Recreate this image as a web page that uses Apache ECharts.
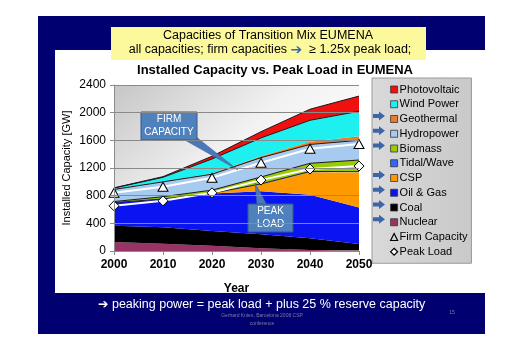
<!DOCTYPE html>
<html>
<head>
<meta charset="utf-8">
<script src="https://cdn.jsdelivr.net/npm/echarts@6/dist/echarts.min.js"></script>
<style>
  html, body { margin: 0; padding: 0; background: #fff; }
  #chart { width: 529px; height: 350px; }
</style>
</head>
<body>
<div id="chart"></div>
<script>
// Installed capacity by technology (GW), stacked bottom to top
const years = ['2000', '2010', '2020', '2030', '2040', '2050'];
const nuclear    = [130, 105,  75,  40,  15,   8];
const coal       = [235, 240, 215, 202, 168,  92];
const oilGas     = [335, 405, 540, 623, 632, 528];
const csp        = [  0,   2,   5, 100, 325, 507];
const tidalWave  = [  0,   0,   0,   5,  10,  12];
const biomass    = [ 15,  33,  45, 100, 118, 168];
const hydropower = [175, 215, 230, 280, 272, 285];
const geothermal = [  5,   6,  10,  20,  40,  60];
const windPower  = [ 15,  59, 210, 265, 310, 360];
const photovolt  = [  3,  10,  40,  90, 160, 220];
// Reference lines (GW)
const firmCapacity = [841, 928, 1059, 1276, 1479, 1547];
const peakLoad     = [653, 725,  841, 1025, 1185, 1228];
// Value axis ticks
const yMin = 0, yMax = 2400, yStep = 400;

const FONT = '"Liberation Sans", Arial, "DejaVu Sans", sans-serif';

const layers = [
  { name: 'Nuclear',     data: nuclear,    color: '#993366', line: null },
  { name: 'Coal',        data: coal,       color: '#000000', line: null },
  { name: 'Oil & Gas',   data: oilGas,     color: '#0A14F0', line: null },
  { name: 'CSP',         data: csp,        color: '#FF9900', line: null },
  { name: 'Tidal/Wave',  data: tidalWave,  color: '#3366FF', line: '#1a1a40' },
  { name: 'Biomass',     data: biomass,    color: '#99CC00', line: '#1a1a1a' },
  { name: 'Hydropower',  data: hydropower, color: '#A6CAF0', line: '#1a1a1a' },
  { name: 'Geothermal',  data: geothermal, color: '#F07A22', line: null },
  { name: 'Wind Power',  data: windPower,  color: '#1EF0F0', line: '#1a1a1a' },
  { name: 'Photovoltaic',data: photovolt,  color: '#F01010', line: '#1a1a1a' }
];

const series = layers.map(l => ({
  name: l.name,
  type: 'line',
  stack: 'capacity',
  data: l.data,
  showSymbol: false,
  symbol: 'none',
  smooth: false,
  color: l.color,
  lineStyle: l.line ? { color: l.line, width: 1 } : { width: 0 },
  areaStyle: { color: l.color, opacity: 1 },
  itemStyle: { color: l.color },
  emphasis: { disabled: true },
  z: 2
}));

series.push({
  name: 'Firm Capacity',
  type: 'line',
  data: firmCapacity,
  symbol: 'triangle',
  symbolSize: [10, 9],
  lineStyle: { color: '#ffffff', width: 2 },
  itemStyle: { color: '#ffffff', borderColor: '#000000', borderWidth: 1 },
  emphasis: { disabled: true },
  z: 5
});
series.push({
  name: 'Peak Load',
  type: 'line',
  data: peakLoad,
  symbol: 'diamond',
  symbolSize: [10, 10],
  lineStyle: { color: '#ffffff', width: 2 },
  itemStyle: { color: '#ffffff', borderColor: '#000000', borderWidth: 1 },
  emphasis: { disabled: true },
  z: 5
});

const legendNames = layers.map(l => l.name).reverse();
const legendData = legendNames.map(n => ({
  name: n, icon: 'rect',
  itemStyle: { borderColor: '#333', borderWidth: 0.8 }
}));
legendData.push({ name: 'Firm Capacity', icon: 'triangle',
  itemStyle: { color: 'rgba(0,0,0,0)', borderColor: '#000', borderWidth: 1.2 } });
legendData.push({ name: 'Peak Load', icon: 'diamond',
  itemStyle: { color: '#ffffff', borderColor: '#000', borderWidth: 1.2 } });

// Legend geometry
const LEG_TOP = 83, LEG_ROW = 14.75, LEG_ICON = 7;
const arrowed = ['Geothermal', 'Hydropower', 'Biomass', 'CSP', 'Oil & Gas', 'Coal', 'Nuclear'];

function blockArrow(cx, cy) {
  // small right-pointing block arrow
  const x0 = cx - 6, y0 = cy;
  return {
    type: 'polygon', z: 20,
    shape: { points: [
      [x0, y0 - 2], [x0 + 6, y0 - 2], [x0 + 6, y0 - 4.5], [x0 + 12, y0],
      [x0 + 6, y0 + 4.5], [x0 + 6, y0 + 2], [x0, y0 + 2]
    ] },
    style: { fill: '#3C66A8' }
  };
}

const legendArrows = legendData
  .map((d, i) => ({ d, i }))
  .filter(o => arrowed.includes(o.d.name))
  .map(o => blockArrow(379, LEG_TOP + LEG_ROW * o.i + 3.5));

const chart = echarts.init(document.getElementById('chart'), null, { renderer: 'canvas' });

const option = {
  animation: false,
  backgroundColor: '#ffffff',
  textStyle: { fontFamily: FONT },
  grid: {
    left: 114, right: 170, top: 85, bottom: 99,
    show: true, borderWidth: 0,
    backgroundColor: new echarts.graphic.LinearGradient(0, 0, 0.6, 1, [
      { offset: 0, color: '#C6C6C6' },
      { offset: 0.55, color: '#F2F2F2' },
      { offset: 1, color: '#FFFFFF' }
    ]),
    z: 1
  },
  title: {
    text: 'Installed Capacity vs. Peak Load in EUMENA',
    left: 270, top: 59, textAlign: 'center',
    textStyle: { fontFamily: FONT, fontSize: 13, fontWeight: 'bold', color: '#000' }
  },
  legend: {
    orient: 'vertical',
    left: 372, top: 78,
    padding: [5, 4, 5, 18],
    width: 111,
    itemWidth: LEG_ICON, itemHeight: LEG_ICON,
    itemGap: LEG_ROW - 13,
    selectedMode: false,
    backgroundColor: new echarts.graphic.LinearGradient(0, 0, 1, 0, [
      { offset: 0, color: '#D9D9D9' },
      { offset: 1, color: '#C9C9C9' }
    ]),
    borderColor: '#9A9A9A', borderWidth: 1,
    textStyle: { fontFamily: FONT, fontSize: 11, color: '#000', lineHeight: 13, padding: [0, 0, 0, -3] },
    data: legendData
  },
  xAxis: {
    type: 'category',
    data: years,
    boundaryGap: false,
    name: 'Year',
    nameLocation: 'middle',
    nameGap: 32,
    nameTextStyle: { fontFamily: FONT, fontSize: 12, fontWeight: 'bold', color: '#000' },
    axisLine: { lineStyle: { color: '#8C8C8C', width: 1 } },
    axisTick: { show: true, alignWithLabel: true, length: 4, lineStyle: { color: '#8C8C8C' } },
    axisLabel: { fontFamily: FONT, fontSize: 12, fontWeight: 'bold', color: '#000', margin: 8 },
    splitLine: { show: false },
    z: 10
  },
  yAxis: {
    type: 'value',
    min: yMin, max: yMax, interval: yStep,
    name: 'Installed Capacity [GW]',
    nameLocation: 'middle',
    nameGap: 42,
    nameTextStyle: { fontFamily: FONT, fontSize: 11, color: '#000' },
    axisLine: { show: true, lineStyle: { color: '#8C8C8C', width: 1 } },
    axisTick: { show: true, length: 4, lineStyle: { color: '#8C8C8C' } },
    axisLabel: { fontFamily: FONT, fontSize: 12, color: '#000', margin: 8,
                 formatter: v => String(v) },
    splitLine: { show: true, lineStyle: { color: '#8A8A8A', width: 1 } },
    z: 10
  },
  series: series,
  graphic: [
    // slide frame
    { type: 'rect', z: -100, silent: true, shape: { x: 38, y: 16, width: 447, height: 318 }, style: { fill: '#000070' } },
    { type: 'rect', z: -99, silent: true, shape: { x: 55, y: 50, width: 430, height: 243 }, style: { fill: '#ffffff' } },
    // header box
    { type: 'rect', z: 20, shape: { x: 111, y: 27, width: 315, height: 33 }, style: { fill: '#FCF99C' } },
    { type: 'text', z: 21, x: 268, y: 36,
      style: { text: 'Capacities of Transition Mix EUMENA', font: '12.5px ' + FONT, fill: '#000',
               align: 'center', verticalAlign: 'middle' } },
    { type: 'text', z: 21, x: 270, y: 50,
      style: {
        text: '{t|all capacities; firm capacities }{a|➔}{t|  ≥ 1.25x peak load;}',
        align: 'center', verticalAlign: 'middle',
        rich: {
          t: { font: '12.5px ' + FONT, fill: '#000' },
          a: { font: 'bold 14px "DejaVu Sans", sans-serif', fill: '#3C66A8' }
        }
      } },
    // callout: firm capacity
    { type: 'polygon', z: 8, shape: { points: [[183, 139], [195, 136], [238, 170]] },
      style: { fill: '#4A78B8', stroke: '#3A5F95', lineWidth: 0.5 } },
    { type: 'rect', z: 9, shape: { x: 141, y: 112, width: 56, height: 28 },
      style: { fill: '#4F81BD', stroke: '#35598A', lineWidth: 1 } },
    { type: 'text', z: 10, x: 169, y: 126,
      style: { text: 'FIRM\nCAPACITY', font: '10px ' + FONT, fill: '#ffffff', align: 'center',
               verticalAlign: 'middle', lineHeight: 13 } },
    // callout: peak load
    { type: 'polygon', z: 8, shape: { points: [[257, 205], [267, 205], [255, 183]] },
      style: { fill: '#4A78B8', stroke: '#3A5F95', lineWidth: 0.5 } },
    { type: 'rect', z: 9, shape: { x: 248, y: 204, width: 45, height: 28 },
      style: { fill: '#4F81BD', stroke: '#35598A', lineWidth: 1 } },
    { type: 'text', z: 10, x: 270.5, y: 218,
      style: { text: 'PEAK\nLOAD', font: '10px ' + FONT, fill: '#ffffff', align: 'center',
               verticalAlign: 'middle', lineHeight: 13 } },
    // footer
    { type: 'text', z: 20, x: 98, y: 305,
      style: { text: '➔ peaking power = peak load + plus 25 % reserve capacity',
               font: '12.5px ' + FONT, fill: '#ffffff', verticalAlign: 'middle' } },
    { type: 'text', z: 20, x: 262, y: 320,
      style: { text: 'Gerhard Knies, Barcelona 2008 CSP\nconference', font: '5px ' + FONT,
               fill: '#7A7AA8', align: 'center', verticalAlign: 'middle', lineHeight: 8 } },
    { type: 'text', z: 20, x: 452, y: 313,
      style: { text: '15', font: '5px ' + FONT, fill: '#7A7AA8', align: 'center', verticalAlign: 'middle' } }
  ].concat(legendArrows)
};

chart.setOption(option);
</script>
</body>
</html>
